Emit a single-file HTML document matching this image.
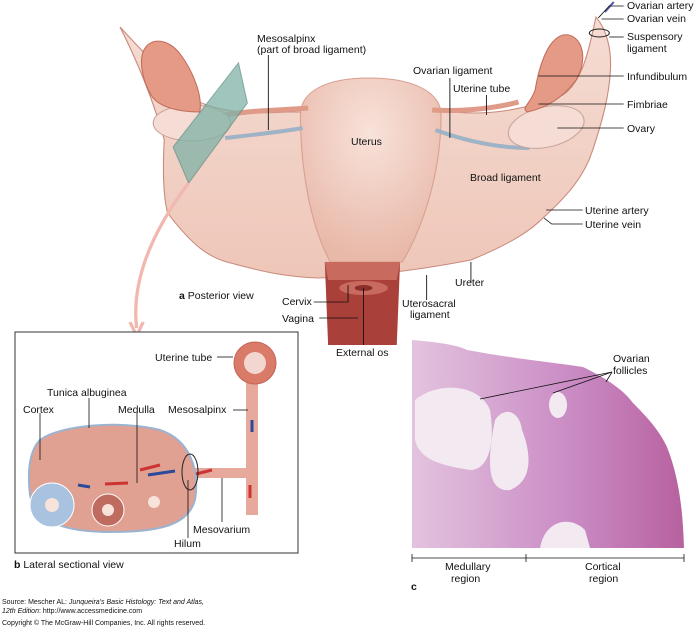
<!DOCTYPE html>
<html><head><meta charset="utf-8"><style>
body{margin:0;background:#fff;width:698px;height:628px;overflow:hidden;font-family:"Liberation Sans",sans-serif}
svg text{font-family:"Liberation Sans",sans-serif;font-size:10.5px;fill:#111}
</style></head><body>
<svg width="698" height="628" viewBox="0 0 698 628" xmlns="http://www.w3.org/2000/svg">
<defs>
<linearGradient id="lig" x1="0" y1="0" x2="0" y2="1"><stop offset="0" stop-color="#f5dcd3"/><stop offset="1" stop-color="#eec6b8"/></linearGradient>
<radialGradient id="ut" cx="0.5" cy="0.3" r="0.7"><stop offset="0" stop-color="#f8e2da"/><stop offset="1" stop-color="#e8b8a8"/></radialGradient>
<linearGradient id="hist" x1="0" y1="0" x2="1" y2="0"><stop offset="0" stop-color="#e3c3df"/><stop offset="0.6" stop-color="#c98ac3"/><stop offset="1" stop-color="#b7619f"/></linearGradient>
</defs>
<g transform="translate(120,0) scale(1.107,1) translate(-120,0)">
<path d="M120,27 C135,60 150,100 160,140 C158,180 160,200 163,213 C185,245 200,258 220,263 C250,272 270,277 300,278 C350,276 400,268 437,260 C470,245 490,232 503,217 C525,195 540,175 547,150 C556,120 562,95 563,70 C564,50 560,30 550,17 C545,40 540,80 520,95 C480,112 450,115 420,112 L270,112 C230,115 200,110 180,95 C160,75 135,45 120,27 Z" fill="url(#lig)" stroke="#c98a7c" stroke-width="1"/>
<path d="M283,115 C283,92 305,78 345,78 C385,78 410,92 410,115 C410,170 395,225 375,262 L310,262 C292,225 283,170 283,115 Z" fill="url(#ut)" stroke="#d9a090"/>
<path d="M215,115 C240,110 270,110 290,108" stroke="#e09a88" stroke-width="5" fill="none"/>
<path d="M402,110 C430,112 460,108 480,102" stroke="#e09a88" stroke-width="5" fill="none"/>
<path d="M215,138 C240,135 265,132 285,128" stroke="#9fb3c6" stroke-width="4" fill="none"/>
<path d="M405,130 C430,140 460,148 490,148" stroke="#9fb3c6" stroke-width="4" fill="none"/>
<ellipse cx="185" cy="123" rx="35" ry="18" fill="#f5ddd6" stroke="#c9a39a"/>
<ellipse cx="505" cy="127" rx="35" ry="20" fill="#f5ddd6" stroke="#c9a39a" transform="rotate(-15 505 127)"/>
<path d="M145,45 C135,55 140,80 148,95 C155,108 175,112 192,112 C195,95 185,70 175,55 C165,40 152,38 145,45 Z" fill="#e49a85" stroke="#c36e5c"/>
<path d="M520,35 C505,40 498,70 495,90 C490,105 482,108 488,112 C505,108 520,98 532,80 C545,55 535,32 520,35 Z" fill="#e49a85" stroke="#c36e5c"/>
<path d="M558,12 L566,2" stroke="#5060b0" stroke-width="2"/>
<ellipse cx="553" cy="33" rx="9" ry="4" fill="none" stroke="#222"/>
<polygon points="227,63 235,103 182,183 168,147" fill="#7fb2a6" opacity="0.75" stroke="#5f8e84"/>
<path d="M182,183 C150,230 130,280 135,328" stroke="#f2b8b0" stroke-width="3" fill="none"/>
<path d="M129,322 L135,336 L141,322" fill="none" stroke="#f2b8b0" stroke-width="3"/>
<path d="M305,262 L373,262 L370,345 L308,345 Z" fill="#a9403a"/>
<path d="M305,262 L373,262 L370,280 L308,280 Z" fill="#c86a5e"/>
<ellipse cx="340" cy="288" rx="22" ry="7" fill="#c86a5e"/>
<ellipse cx="340" cy="288" rx="8" ry="3" fill="#8a2e2a"/>
<g stroke="#111" stroke-width="0.8" fill="none">
<line x1="254" y1="55" x2="254" y2="130"/>
<line x1="418" y1="78" x2="418" y2="138"/>
<line x1="451" y1="95" x2="451" y2="115"/>
<line x1="498" y1="76" x2="575" y2="76"/>
<line x1="498" y1="104" x2="575" y2="104"/>
<line x1="515" y1="128" x2="575" y2="128"/>
<line x1="505" y1="210" x2="538" y2="210"/>
<polyline points="503,218 510,224 538,224"/>
<polyline points="552,18 562,6 575,6"/>
<line x1="555" y1="19" x2="575" y2="19"/>
<line x1="562" y1="37" x2="575" y2="37"/>
<line x1="437" y1="262" x2="437" y2="283"/>
<line x1="397" y1="275" x2="397" y2="300"/>
<polyline points="295,302 326,302 326,285"/>
<line x1="300" y1="318" x2="335" y2="318"/>
<line x1="340" y1="288" x2="340" y2="345"/>
</g>
</g>
<text x="257" y="42">Mesosalpinx</text>
<text x="257" y="53">(part of broad ligament)</text>
<text x="413" y="74">Ovarian ligament</text>
<text x="453" y="92">Uterine tube</text>
<text x="351" y="145">Uterus</text>
<text x="470" y="181">Broad ligament</text>
<text x="627" y="9">Ovarian artery</text>
<text x="627" y="22">Ovarian vein</text>
<text x="627" y="40">Suspensory</text>
<text x="627" y="52">ligament</text>
<text x="627" y="80">Infundibulum</text>
<text x="627" y="108">Fimbriae</text>
<text x="627" y="132">Ovary</text>
<text x="585" y="214">Uterine artery</text>
<text x="585" y="228">Uterine vein</text>
<text x="455" y="286">Ureter</text>
<text x="402" y="307">Uterosacral</text>
<text x="410" y="318">ligament</text>
<text x="179" y="299"><tspan font-weight="bold">a</tspan> Posterior view</text>
<text x="282" y="305">Cervix</text>
<text x="282" y="322">Vagina</text>
<text x="336" y="356">External os</text>
<!-- panel b -->
<rect x="15" y="332" width="283" height="221" fill="#fff" stroke="#333" stroke-width="1"/>
<path d="M190,468 L246,468 L246,478 L190,478 Z" fill="#e7a99b"/>
<path d="M246,380 L258,380 L258,515 L246,515 Z" fill="#e7a99b"/>
<path d="M40,440 C60,425 120,420 160,430 C190,440 200,470 195,500 C188,525 160,532 110,532 C65,532 35,522 30,495 C27,470 30,450 40,440 Z" fill="#e0a092" stroke="#9cb3d0" stroke-width="2"/>
<circle cx="255" cy="363" r="21" fill="#d97b68" stroke="#c46454"/>
<circle cx="255" cy="363" r="11" fill="#f3d6cf"/>
<circle cx="52" cy="505" r="22" fill="#a8c2e0" stroke="#fff"/><circle cx="52" cy="505" r="7" fill="#f7e3da"/>
<circle cx="108" cy="510" r="16" fill="#c06b60" stroke="#fff"/><circle cx="108" cy="510" r="6" fill="#f7e3da"/>
<circle cx="154" cy="502" r="6" fill="#f7e3da"/>
<g stroke-width="3"><line x1="140" y1="470" x2="160" y2="465" stroke="#c33"/><line x1="148" y1="475" x2="175" y2="471" stroke="#2a4a9a"/><line x1="78" y1="485" x2="90" y2="487" stroke="#2a4a9a"/><line x1="105" y1="484" x2="128" y2="483" stroke="#c33"/><line x1="196" y1="474" x2="212" y2="470" stroke="#c33"/><line x1="252" y1="420" x2="252" y2="432" stroke="#2a4a9a"/><line x1="250" y1="485" x2="250" y2="498" stroke="#c33"/></g>
<ellipse cx="190" cy="472" rx="8" ry="18" fill="none" stroke="#222"/>
<g stroke="#111" stroke-width="0.8"><line x1="217" y1="357" x2="233" y2="357"/><line x1="89" y1="398" x2="89" y2="428"/><line x1="40" y1="413" x2="40" y2="460"/><line x1="137" y1="413" x2="137" y2="483"/><line x1="233" y1="410" x2="248" y2="410"/><line x1="188" y1="480" x2="188" y2="538"/><line x1="222" y1="478" x2="222" y2="522"/></g>
<text x="155" y="361">Uterine tube</text>
<text x="47" y="396">Tunica albuginea</text>
<text x="23" y="413">Cortex</text>
<text x="118" y="413">Medulla</text>
<text x="168" y="413">Mesosalpinx</text>
<text x="193" y="533">Mesovarium</text>
<text x="174" y="547">Hilum</text>
<text x="14" y="568"><tspan font-weight="bold">b</tspan> Lateral sectional view</text>
<!-- panel c -->
<path d="M412,340 C440,342 460,346 467,350 C510,358 550,362 583,367 C610,380 625,392 633,403 C650,420 660,432 667,447 C680,480 683,515 684,548 L412,548 Z" fill="url(#hist)"/>
<path d="M415,400 C440,380 480,385 490,410 C495,440 490,470 470,470 C440,465 420,460 415,440 Z" fill="#f3e9f1"/>
<path d="M495,420 C505,405 520,412 522,430 C530,450 535,480 510,490 C490,492 485,470 495,420 Z" fill="#f3e9f1"/>
<ellipse cx="558" cy="405" rx="9" ry="13" fill="#f3e9f1"/>
<path d="M540,548 C545,520 570,515 585,530 L590,548 Z" fill="#f3e9f1"/>
<g stroke="#111" stroke-width="0.8" fill="none"><line x1="480" y1="399" x2="612" y2="372"/><line x1="553" y1="393" x2="612" y2="372"/><line x1="606" y1="382" x2="612" y2="372"/>
<path d="M412,554 L412,562 M412,558 L526,558 M526,554 L526,562 M526,558 L684,558 M684,554 L684,562"/></g>
<text x="613" y="362">Ovarian</text>
<text x="613" y="374">follicles</text>
<text x="445" y="570">Medullary</text>
<text x="451" y="582">region</text>
<text x="585" y="570">Cortical</text>
<text x="589" y="582">region</text>
<text x="411" y="590" font-weight="bold">c</text>
<text x="2" y="604" style="font-size:7px">Source: Mescher AL: <tspan font-style="italic">Junqueira's Basic Histology: Text and Atlas,</tspan></text>
<text x="2" y="613" style="font-size:7px"><tspan font-style="italic">12th Edition</tspan>: http://www.accessmedicine.com</text>
<text x="2" y="625" style="font-size:7px">Copyright © The McGraw-Hill Companies, Inc. All rights reserved.</text>
</svg>
</body></html>
